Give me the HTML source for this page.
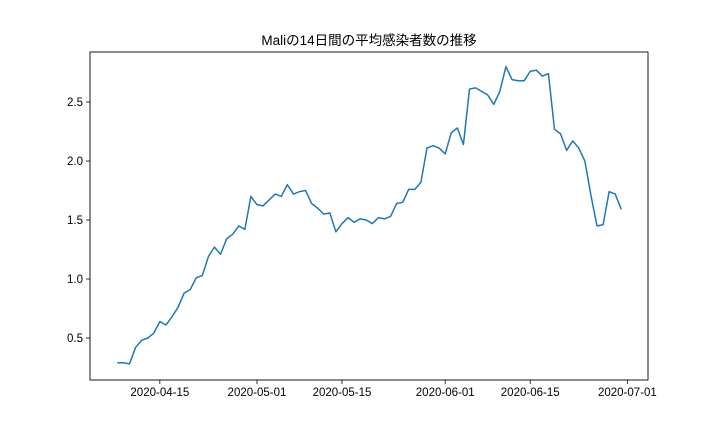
<!DOCTYPE html>
<html><head><meta charset="utf-8"><style>
body{margin:0;background:#fff;}
svg text{font-family:"Liberation Sans","Noto Sans CJK JP",sans-serif;fill:#000;}
</style></head><body>
<svg id="chart" width="720" height="432" xmlns="http://www.w3.org/2000/svg">
<text x="369" y="45" text-anchor="middle" font-size="13.5">Maliの14日間の平均感染者数の推移</text>
<g id="axes"></g>
<rect x="90" y="52" width="558" height="328" fill="none" stroke="#000" stroke-width="0.9"/>
</svg>
<script>
const startDate = "2020-04-08";
const values = [0.29,0.29,0.28,0.42,0.48,0.50,0.54,0.64,0.61,0.68,0.76,0.88,0.91,1.01,1.03,1.19,1.27,1.21,1.34,1.38,1.45,1.42,1.70,1.63,1.62,1.67,1.72,1.70,1.80,1.72,1.74,1.75,1.64,1.60,1.55,1.56,1.40,1.47,1.52,1.48,1.51,1.50,1.47,1.52,1.51,1.53,1.64,1.65,1.76,1.76,1.82,2.11,2.13,2.11,2.06,2.24,2.28,2.14,2.61,2.62,2.59,2.56,2.48,2.59,2.80,2.69,2.68,2.68,2.76,2.77,2.72,2.74,2.27,2.23,2.09,2.17,2.11,2.00,1.71,1.45,1.46,1.74,1.72,1.59];
const yTicks = [0.5,1.0,1.5,2.0,2.5];
const xTickLabels = ["2020-04-15","2020-05-01","2020-05-15","2020-06-01","2020-06-15","2020-07-01"];

const L=90,R=648,T=52,B=380;
const yMin=0.144,yMax=2.924;
const day0=Date.parse(startDate);
const dMin=-4.5,dMax=87.4;
const xs=d=>L+(d-dMin)/(dMax-dMin)*(R-L);
const ys=v=>B-(v-yMin)/(yMax-yMin)*(B-T);
const dayOf=s=>(Date.parse(s)-day0)/86400000;
const NS="http://www.w3.org/2000/svg";
const g=document.getElementById('axes');
function mk(t,a){const e=document.createElementNS(NS,t);for(const k in a)e.setAttribute(k,a[k]);g.appendChild(e);return e;}
yTicks.forEach(v=>{
  const y=ys(v);
  const t=mk('line',{x1:L-4,x2:L,y1:y,y2:y,stroke:'#000','stroke-width':0.8});
  
  
  const tx=mk('text',{x:L-7,y:y+4,'text-anchor':'end','font-size':11.5});
  tx.textContent=v.toFixed(1);
  
  
});
xTickLabels.forEach(s=>{
  const x=xs(dayOf(s));
  const t=mk('line',{x1:x,x2:x,y1:B,y2:B+4,stroke:'#000','stroke-width':0.8});
  
  
  const tx=mk('text',{x:x,y:B+16,'text-anchor':'middle','font-size':11.5});
  tx.textContent=s;
  
  
});
const pts=values.map((v,i)=>xs(i).toFixed(2)+','+ys(v).toFixed(2)).join(' ');
const line=mk('polyline',{points:pts,fill:'none',stroke:'#1f77b4','stroke-width':1.5,'stroke-linejoin':'round'});


</script>
</body></html>
